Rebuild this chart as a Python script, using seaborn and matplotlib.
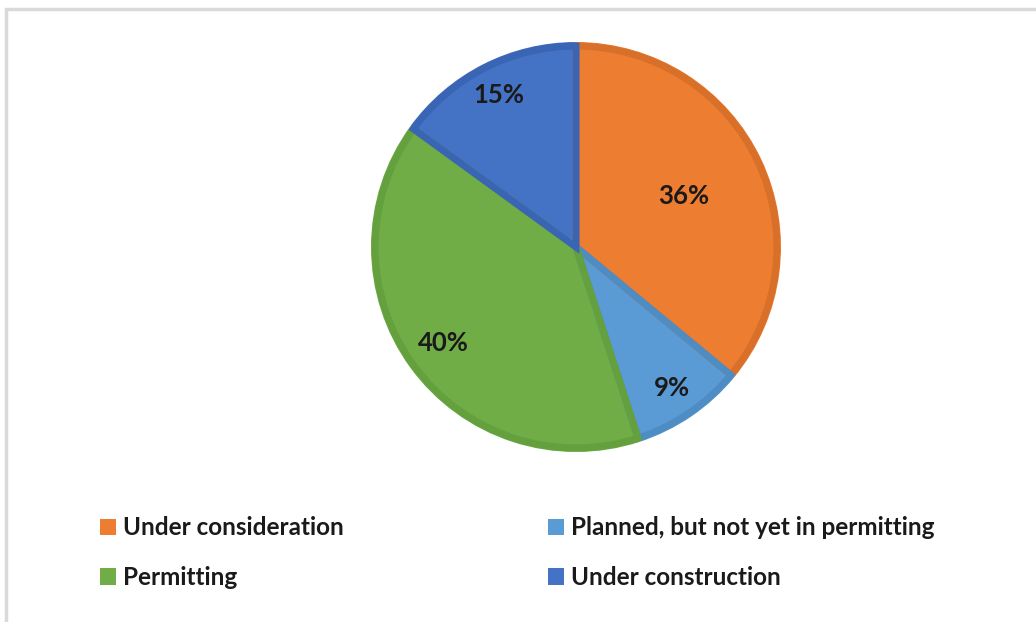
import numpy as np
import matplotlib.pyplot as plt
import matplotlib.patches as mpatches
import seaborn as sns

# data
categories = ["Under consideration", "Planned, but not yet in permitting",
              "Permitting", "Under construction"]
shares = [36, 9, 40, 15]
colors = ["#ED7D31", "#5B9BD5", "#70AD47", "#4472C4"]
edge_colors = ["#D8702A", "#4E8CC4", "#64A03E", "#3A64B4"]
label_dist = [0.58, 0.83, 0.8, 0.83]

sns.set_theme(style="white")
plt.rcParams["font.family"] = ["Lato", "DejaVu Sans"]

fig = plt.figure(figsize=(10.36, 6.22), dpi=100)
fig.patch.set_facecolor("white")

# light grey frame like the original screenshot
fig.patches.append(mpatches.Rectangle((6 / 1036, -0.1), 1.2, (622 - 9) / 622 + 0.1,
                                      transform=fig.transFigure, fill=False,
                                      edgecolor="#d9d9d9", linewidth=2.5))

ax = fig.add_axes([371 / 1036, 170 / 622, 410 / 1036, 410 / 622])
wedges, _ = ax.pie(shares, colors=colors, startangle=90, counterclock=False,
                   radius=1.0, wedgeprops=dict(linewidth=0))
# darker inner rim on each wedge
for w, ec in zip(wedges, edge_colors):
    rim = mpatches.Wedge(w.center, w.r - 0.02, w.theta1, w.theta2,
                         facecolor="none", edgecolor=ec, linewidth=5,
                         joinstyle="miter")
    ax.add_patch(rim)

for w, share, d in zip(wedges, shares, label_dist):
    mid = np.deg2rad((w.theta1 + w.theta2) / 2)
    ax.text(d * np.cos(mid), d * np.sin(mid), f"{share}%", ha="center",
            va="center", fontsize=18.5, fontweight="bold", color="#1a1a1a")
ax.set_xlim(-1, 1)
ax.set_ylim(-1, 1)
ax.set_aspect("equal")
ax.axis("off")

order = [0, 2, 1, 3]
handles = [mpatches.Patch(facecolor=colors[i], edgecolor="none") for i in order]
labels = [categories[i] for i in order]
leg = fig.legend(handles, labels, ncol=2, loc="upper left",
                 bbox_to_anchor=(81 / 1036, 1 - 497 / 622), frameon=False,
                 prop=dict(size=17.5, weight="bold"), handlelength=0.66,
                 handleheight=0.66, handletextpad=0.28, columnspacing=8.4,
                 labelspacing=1.1, borderpad=0.3)
for t in leg.get_texts():
    t.set_color("#1a1a1a")

fig.savefig("out.png", dpi=100, facecolor="white")
